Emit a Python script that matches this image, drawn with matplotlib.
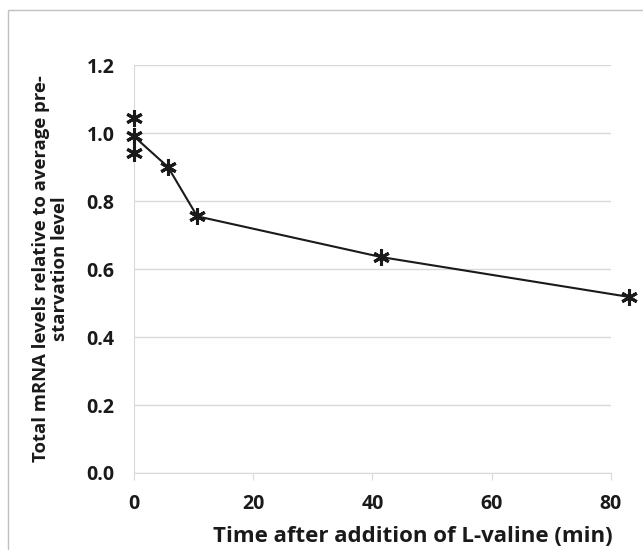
import matplotlib.pyplot as plt
from matplotlib.patches import Rectangle

# time after L-valine addition (min) and relative mRNA level
time_line = [0, 5.7, 10.6, 41.5, 83]
level_line = [0.99, 0.90, 0.755, 0.635, 0.518]
# extra replicate points at t=0 (markers only)
time_extra = [0, 0]
level_extra = [1.045, 0.94]

xticks = [0, 20, 40, 60, 80]
yticks = [0.0, 0.2, 0.4, 0.6, 0.8, 1.0, 1.2]

plt.rcParams['font.family'] = ['Open Sans', 'DejaVu Sans']
plt.rcParams['font.weight'] = 'bold'

fig = plt.figure(figsize=(6.43, 5.5), dpi=100)
ax = fig.add_axes([0.2084, 0.14, 0.7418, 0.7418])

star = (6, 2, 0)
ax.plot(time_line, level_line, color='#1a1a1a', lw=1.5, marker=star,
        ms=12, mew=2.2, mec='#1a1a1a', clip_on=False, zorder=3)
ax.plot(time_extra, level_extra, ls='none', marker=star,
        ms=12, mew=2.2, mec='#1a1a1a', clip_on=False, zorder=3)

ax.set_xlim(0, 80)
ax.set_ylim(0, 1.2)
ax.set_xticks(xticks)
ax.set_yticks(yticks)
ax.set_yticklabels(['%.1f' % v for v in yticks])
ax.yaxis.grid(True, color='#d9d9d9', lw=1)
ax.set_axisbelow(True)
for s in ['top', 'right']:
    ax.spines[s].set_visible(False)
ax.spines['left'].set_color('#d9d9d9')
ax.spines['bottom'].set_color('#d9d9d9')
ax.tick_params(axis='y', length=0, pad=14, labelsize=14, labelcolor='#1a1a1a')
ax.tick_params(axis='x', length=5, color='#d9d9d9', direction='out',
               pad=10, labelsize=14, labelcolor='#1a1a1a')
for lab in ax.get_xticklabels() + ax.get_yticklabels():
    lab.set_fontweight('bold')

ax.set_xlabel('Time after addition of L-valine (min)', fontsize=16,
              fontweight='bold', color='#1a1a1a')
ax.xaxis.set_label_coords(0.585, -0.13)
ax.set_ylabel('Total mRNA levels relative to average pre-\nstarvation level',
              fontsize=13.3, fontweight='bold', linespacing=1.05,
              multialignment='center', color='#1a1a1a')
ax.yaxis.set_label_coords(-0.137, 0.5)

fig.patches.append(Rectangle((8 / 643, -0.1), 1.2, 1 - 10 / 550 + 0.1,
                             transform=fig.transFigure, fill=False,
                             ec='#c0c0c0', lw=1))

fig.savefig('out.png', dpi=100)
